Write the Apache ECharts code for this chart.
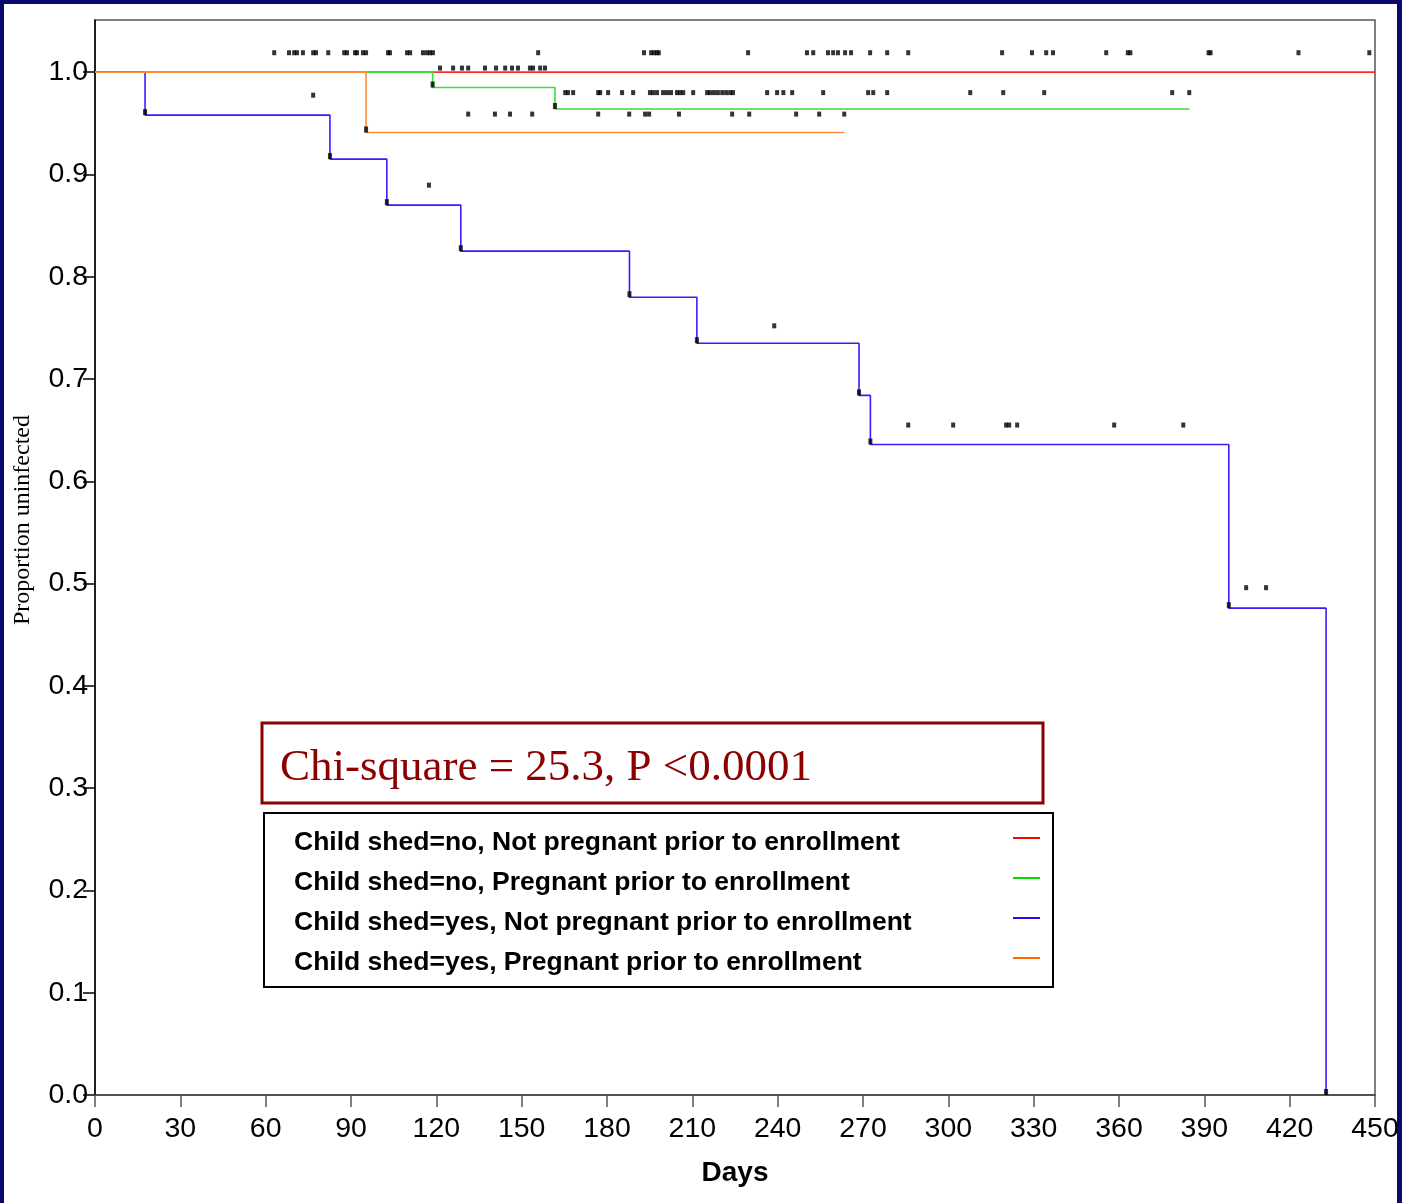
<!DOCTYPE html>
<html>
<head>
<meta charset="utf-8">
<script src="https://cdn.jsdelivr.net/npm/echarts@6/dist/echarts.min.js"></script>
<style>
html,body{margin:0;padding:0;background:#fff;}
#chart{width:1402px;height:1203px;}
</style>
</head>
<body>
<div id="chart"></div>
<script>
// ---------- DATA ----------
const seriesNames = [
  'Child shed=no, Not pregnant prior to enrollment',
  'Child shed=no, Pregnant prior to enrollment',
  'Child shed=yes, Not pregnant prior to enrollment',
  'Child shed=yes, Pregnant prior to enrollment'
];
const xTicks = [0,30,60,90,120,150,180,210,240,270,300,330,360,390,420,450];
const yTicks = [0,0.1,0.2,0.3,0.4,0.5,0.6,0.7,0.8,0.9,1.0];

// Kaplan-Meier step curves (days, proportion uninfected)
const redTimes = [0, 450];
const redSurv  = [1, 1];
const greenTimes = [0, 118.7, 161.7, 384.8];
const greenSurv  = [1, 0.985, 0.964, 0.964];
const blueTimes = [0, 17.6, 82.6, 102.6, 128.6, 187.9, 211.6, 268.6, 272.6, 398.6, 432.8];
const blueSurv  = [1, 0.958, 0.915, 0.870, 0.825, 0.780, 0.735, 0.684, 0.636, 0.476, 0];
const orangeTimes = [0, 95.3, 263.5];
const orangeSurv  = [1, 0.941, 0.941];

// Censoring marks: rows (day lists) with their plotted levels
const censorA_level = 1.019;
const censorA_days = [63, 68.2, 70, 71, 73.1, 76.7, 77.7, 82, 87.6, 88.6, 91.4, 92.1, 94.2, 95.3, 103, 103.7, 109.7, 110.8, 115.3, 116.7, 117.8, 118.8, 155.8,
  193, 195.5, 196.5, 197.5, 198.2, 229.6, 250.3, 252.5, 257.7, 259.5, 261.2, 263.7, 265.8, 272.5, 278.5, 285.9, 318.9,
  329.4, 334.4, 336.8, 355.5, 363.1, 364, 391.5, 392.2, 423.1, 448];
const censorB_level = 1.004;
const censorB_days = [121.3, 125.9, 129, 131.2, 137.1, 141, 144.2, 146.6, 148.7, 152.9, 154, 156.5, 158.2];
const censorC_level = 0.980;
const censorC_days = [165.3, 166.3, 168.1, 176.9, 177.6, 180.4, 185.3, 189.2, 195.1, 196.2, 197.6, 199.7, 201.1, 202.5, 204.6, 205.7, 206.8, 210.3,
  215.2, 216.2, 217.6, 219, 220.5, 221.9, 223.3, 224.3, 236.3, 239.8, 242, 245.1, 256, 271.8, 273.6, 278.5, 307.7, 319.3, 333.7, 378.7, 384.7];
const censorD_level = 0.9775;
const censorD_days = [76.7];
const censorE_level = 0.959;
const censorE_days = [131.2, 140.6, 145.9, 153.7, 176.9, 187.8, 193.4, 194.8, 205.3, 224, 230, 246.5, 254.6, 263.4];
const censorF_level = 0.8895;
const censorF_days = [117.4];
const censorG_level = 0.752;
const censorG_days = [238.8];
const censorH_level = 0.655;
const censorH_days = [285.9, 301.7, 320.3, 321.4, 324.2, 358.3, 382.6];
const censorI_level = 0.496;
const censorI_days = [404.7, 411.7];

const chiText = 'Chi-square = 25.3, P <0.0001';

// ---------- BUILD ----------
const lineColors = ['#ff2b2b', '#3ddc3d', '#3a1cff', '#ff8c3a'];
const legendColors = ['#ff0000', '#00dd00', '#3300ff', '#ff6600'];

function pairs(t, s){ return t.map((x,i)=>[x, s[i]]); }
function events(t, s){
  const out = [];
  for (let i=1;i<t.length;i++){ if (s[i] !== s[i-1]) out.push([t[i], s[i]]); }
  return out;
}
const curves = [
  [redTimes, redSurv],
  [greenTimes, greenSurv],
  [blueTimes, blueSurv],
  [orangeTimes, orangeSurv]
];
const drawOrder = [0, 2, 1, 3];
const series = [];
drawOrder.forEach(k => {
  const [t, s] = curves[k];
  series.push({
    name: seriesNames[k], type: 'line', step: 'end', data: pairs(t, s),
    showSymbol: false, symbol: 'none',
    lineStyle: { color: lineColors[k], width: 1.6 },
    z: 2 + k
  });
});
let evts = [];
curves.forEach(([t,s]) => { evts = evts.concat(events(t,s)); });
series.push({
  type: 'scatter', data: evts, symbol: 'rect', symbolSize: [4, 6], symbolOffset: [0, -3],
  itemStyle: { color: '#000' }, z: 10
});
const censorRows = [
  [censorA_days, censorA_level], [censorB_days, censorB_level], [censorC_days, censorC_level],
  [censorD_days, censorD_level], [censorE_days, censorE_level], [censorF_days, censorF_level],
  [censorG_days, censorG_level], [censorH_days, censorH_level], [censorI_days, censorI_level]
];
let cens = [];
censorRows.forEach(([d, lv]) => { d.forEach(x => cens.push([x, lv])); });
series.push({
  type: 'scatter', data: cens, symbol: 'rect', symbolSize: [4, 5],
  itemStyle: { color: '#000' }, z: 10
});

const graphics = [
  { type: 'text', x: 23, y: 520, rotation: Math.PI/2,
    style: { text: 'Proportion uninfected', font: '24px "Liberation Serif"', fill: '#000', align: 'center', verticalAlign: 'middle' } },
  { type: 'rect', shape: { x: 262, y: 723, width: 781, height: 80 },
    style: { fill: '#fff', stroke: '#8b0000', lineWidth: 3 }, z: 50 },
  { type: 'text', x: 280, y: 768, z: 51,
    style: { text: chiText, font: '45px "Liberation Serif"', fill: '#8b0000', verticalAlign: 'middle' } },
  { type: 'rect', shape: { x: 264, y: 813, width: 789, height: 174 },
    style: { fill: '#fff', stroke: '#000', lineWidth: 2 }, z: 50 }
];
seriesNames.forEach((nm, i) => {
  const cy = 843 + i*40;
  graphics.push({ type: 'text', x: 294, y: cy, z: 51,
    style: { text: nm, font: 'bold 26.5px "Liberation Sans"', fill: '#000', verticalAlign: 'middle' } });
  graphics.push({ type: 'line', z: 51, shape: { x1: 1013, y1: cy - 5, x2: 1040, y2: cy - 5 },
    style: { stroke: legendColors[i], lineWidth: 2 } });
});
graphics.push(
  { type: 'rect', shape: { x: 0, y: 0, width: 4, height: 1203 }, style: { fill: '#0a0a6b' }, z: 100 },
  { type: 'rect', shape: { x: 0, y: 0, width: 1402, height: 4 }, style: { fill: '#0a0a6b' }, z: 100 },
  { type: 'rect', shape: { x: 1397, y: 0, width: 5, height: 1203 }, style: { fill: '#0a0a6b' }, z: 100 }
);

const option = {
  animation: false,
  backgroundColor: '#fff',
  grid: { left: 95, right: 27, top: 20, bottom: 108, show: true, borderColor: '#555', borderWidth: 1.5, backgroundColor: 'transparent' },
  xAxis: {
    type: 'value', min: 0, max: 450, interval: 30,
    axisLine: { lineStyle: { color: '#444', width: 1.5 } },
    axisTick: { show: true, length: 12, customValues: xTicks, lineStyle: { color: '#555', width: 1.5 } },
    axisLabel: { customValues: xTicks, fontSize: 28.5, color: '#000', margin: 20, fontFamily: '"Liberation Sans", Arial' },
    splitLine: { show: false },
    name: 'Days', nameLocation: 'middle', nameGap: 64,
    nameTextStyle: { fontSize: 28, fontWeight: 'bold', color: '#000', fontFamily: '"Liberation Sans", Arial' }
  },
  yAxis: {
    type: 'value', min: 0, max: 1.051, interval: 0.1,
    axisLine: { show: true, lineStyle: { color: '#000', width: 1.5 } },
    axisTick: { show: true, length: 12, customValues: yTicks, lineStyle: { color: '#000', width: 1.5 } },
    axisLabel: { customValues: yTicks, formatter: v => Number(v).toFixed(1), fontSize: 28.5, color: '#000', margin: 7, fontFamily: '"Liberation Sans", Arial' },
    splitLine: { show: false }
  },
  series: series,
  graphic: graphics
};
const chart = echarts.init(document.getElementById('chart'), null, { renderer: 'canvas' });
chart.setOption(option);
</script>
</body>
</html>
